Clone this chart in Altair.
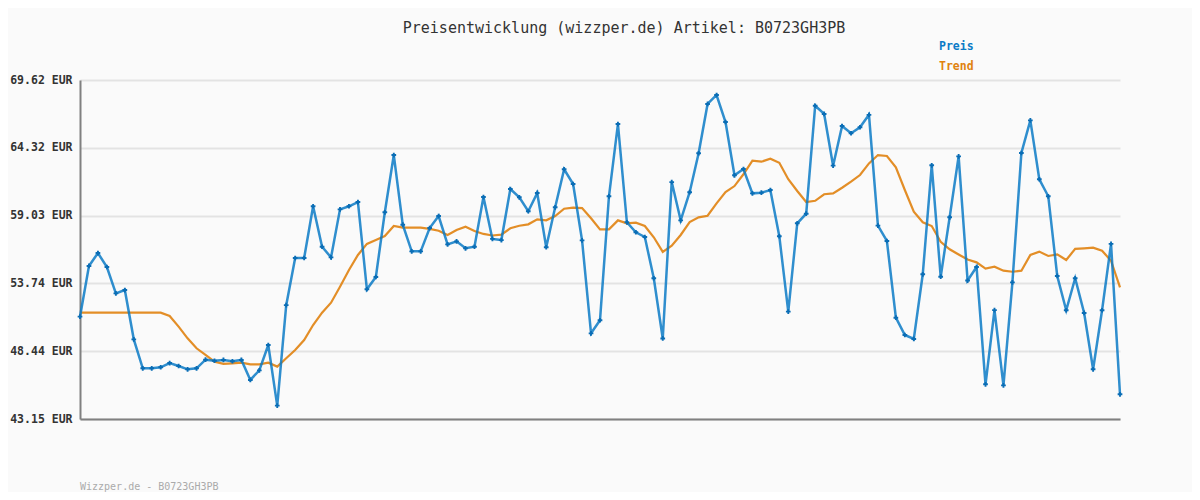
import altair as alt
import pandas as pd

preis = [51.14, 55.10, 56.11, 55.02, 52.96, 53.22, 49.37, 47.11, 47.11, 47.19,
         47.52, 47.29, 47.03, 47.11, 47.78, 47.70, 47.76, 47.66, 47.76, 46.20,
         46.95, 48.93, 44.19, 52.04, 55.72, 55.72, 59.76, 56.60, 55.77, 59.52,
         59.76, 60.09, 53.28, 54.24, 59.29, 63.76, 58.32, 56.24, 56.24, 58.06,
         59.00, 56.79, 57.02, 56.48, 56.60, 60.48, 57.21, 57.12, 61.11, 60.46,
         59.37, 60.80, 56.56, 59.68, 62.65, 61.50, 57.10, 49.84, 50.86, 60.54,
         66.18, 58.51, 57.73, 57.36, 54.14, 49.44, 61.65, 58.66, 60.86, 63.90,
         67.75, 68.45, 66.34, 62.18, 62.67, 60.77, 60.82, 61.03, 57.42, 51.53,
         58.43, 59.18, 67.61, 66.97, 62.93, 66.03, 65.46, 65.93, 66.90, 58.25,
         57.05, 51.06, 49.71, 49.40, 54.45, 62.96, 54.26, 58.90, 63.66, 53.96,
         55.02, 45.86, 51.65, 45.78, 53.82, 63.92, 66.47, 61.87, 60.54, 54.32,
         51.64, 54.14, 51.43, 47.03, 51.64, 56.82, 45.08]

trend = [51.45, 51.45, 51.45, 51.45, 51.45, 51.45, 51.45, 51.45, 51.45, 51.45,
         51.19, 50.36, 49.45, 48.67, 48.15, 47.63, 47.45, 47.50, 47.55, 47.42,
         47.42, 47.55, 47.24, 47.89, 48.54, 49.32, 50.49, 51.45, 52.23, 53.48,
         54.78, 55.96, 56.82, 57.13, 57.44, 58.22, 58.09, 58.09, 58.09, 57.99,
         57.85, 57.52, 57.91, 58.17, 57.83, 57.60, 57.48, 57.54, 58.04, 58.24,
         58.35, 58.74, 58.66, 59.00, 59.57, 59.65, 59.62, 58.82, 57.96, 57.96,
         58.66, 58.43, 58.48, 58.22, 57.34, 56.20, 56.68, 57.52, 58.52, 58.90,
         59.02, 59.99, 60.87, 61.34, 62.26, 63.32, 63.24, 63.48, 63.16, 61.87,
         60.95, 60.09, 60.19, 60.70, 60.77, 61.21, 61.68, 62.20, 63.11, 63.76,
         63.69, 62.80, 61.03, 59.34, 58.51, 58.22, 56.99, 56.40, 56.00, 55.60,
         55.38, 54.89, 55.04, 54.73, 54.65, 54.73, 55.96, 56.22, 55.88, 56.01,
         55.57, 56.43, 56.48, 56.53, 56.29, 55.51, 53.43]

tick_values = [43.15, 48.44, 53.74, 59.03, 64.32, 69.62]
title_text = "Preisentwicklung (wizzper.de) Artikel: B0723GH3PB"
legend_labels = ["Preis", "Trend"]
footer_text = "Wizzper.de - B0723GH3PB"

BLUE = "#0b7ac6"
ORANGE = "#e0820f"
FONT = "DejaVu Sans Mono"

df = pd.DataFrame({"idx": list(range(len(preis))), "preis": preis, "trend": trend})

x_enc = alt.X("idx:Q", scale=alt.Scale(domain=[0, len(preis) - 1], nice=False, zero=False),
              axis=alt.Axis(title=None, labels=False, ticks=False, grid=False,
                            domainColor="#808080", domainWidth=2))
y_scale = alt.Scale(domain=[tick_values[0], tick_values[-1]], nice=False, zero=False)
y_axis = alt.Axis(title=None, values=tick_values, ticks=False, grid=True,
                  gridColor="#e3e3e3", gridWidth=2, domainColor="#808080", domainWidth=2,
                  labelExpr="format(datum.value, '.2f') + ' EUR'",
                  labelFont=FONT, labelFontSize=11.5, labelFontWeight="bold",
                  labelColor="#333333", labelPadding=8)

base = alt.Chart(df)
trend_line = base.mark_line(color=ORANGE, strokeWidth=2.2, opacity=0.9).encode(
    x=x_enc, y=alt.Y("trend:Q", scale=y_scale, axis=y_axis))
preis_line = base.mark_line(color=BLUE, strokeWidth=2.5, opacity=0.85).encode(
    x=x_enc, y=alt.Y("preis:Q", scale=y_scale))
preis_pts = base.mark_point(shape="cross", filled=True, size=22, color="#0a6db5", opacity=1).encode(
    x=x_enc, y=alt.Y("preis:Q", scale=y_scale))

title = alt.Chart(pd.DataFrame({"t": [title_text]})).mark_text(
    font=FONT, fontSize=15, color="#333333", align="center", baseline="middle").encode(
    x=alt.value(544), y=alt.value(-52), text="t:N")
leg1 = alt.Chart(pd.DataFrame({"t": [legend_labels[0]]})).mark_text(
    font=FONT, fontSize=11.5, fontWeight="bold", color=BLUE, align="left", baseline="middle").encode(
    x=alt.value(859), y=alt.value(-33), text="t:N")
leg2 = alt.Chart(pd.DataFrame({"t": [legend_labels[1]]})).mark_text(
    font=FONT, fontSize=11.5, fontWeight="bold", color=ORANGE, align="left", baseline="middle").encode(
    x=alt.value(859), y=alt.value(-13), text="t:N")
footer = alt.Chart(pd.DataFrame({"t": [footer_text]})).mark_text(
    font=FONT, fontSize=10, color="#aaaaaa", align="left", baseline="middle").encode(
    x=alt.value(0), y=alt.value(407), text="t:N")

chart = alt.layer(trend_line, preis_line, preis_pts, title, leg1, leg2, footer).properties(
    width=1040, height=339,
    autosize=alt.AutoSizeParams(type="none"),
    padding={"left": 72, "top": 72, "right": 72, "bottom": 73},
    background="#fafafa",
).configure_view(stroke=None)

chart.save("out.html", embed_options={"renderer": "svg", "actions": False})
